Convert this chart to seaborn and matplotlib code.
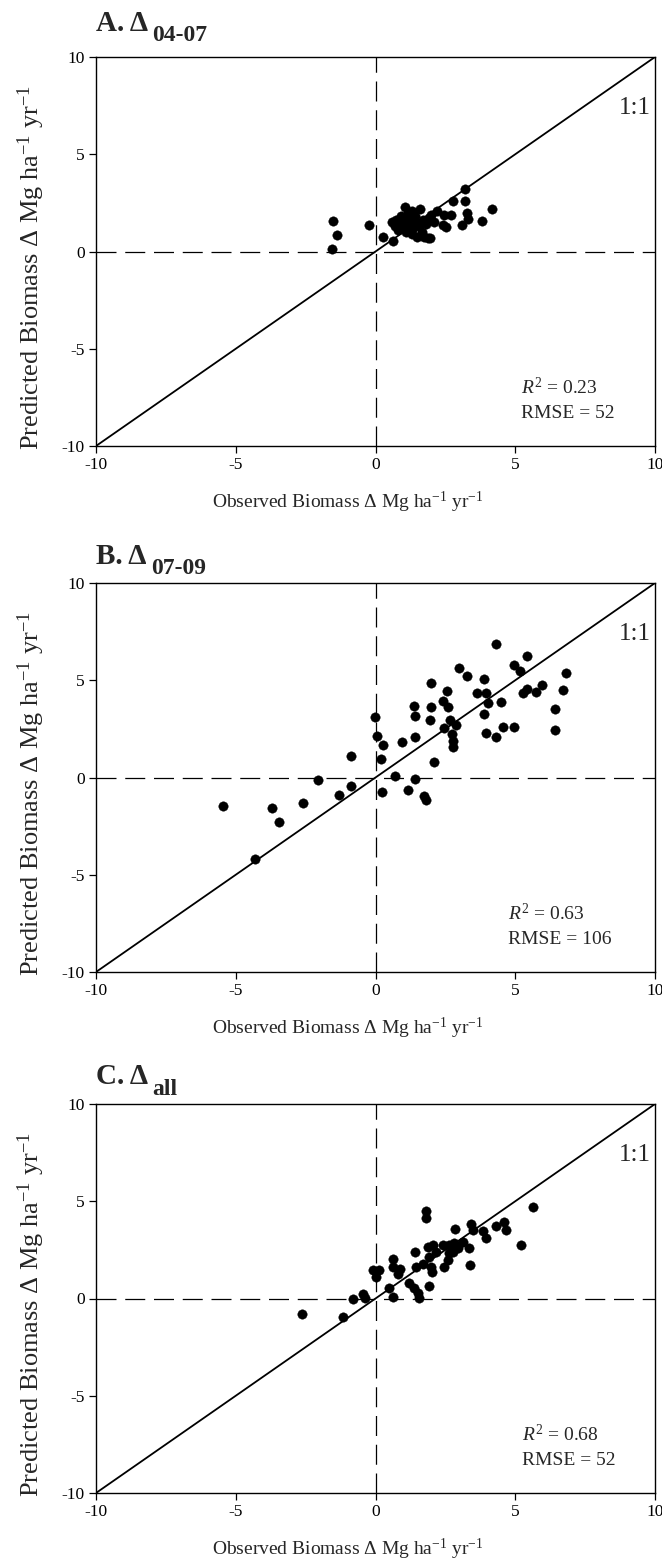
import matplotlib
matplotlib.use("Agg")
import matplotlib.pyplot as plt
import seaborn as sns
import pandas as pd

# A. change 2004-2007 (observed, predicted), Mg ha-1 yr-1
a_obs = [-1.51, -1.37, -1.54, -0.23, 0.27, 0.63,
         0.60, 0.70, 0.75, 0.80, 0.85, 0.90, 0.95, 1.00, 1.05, 1.10, 1.10,
         1.15, 1.20, 1.25, 1.30, 1.30, 1.35, 1.40, 1.45, 1.50, 1.55, 1.60,
         1.65, 1.70, 1.75, 1.80, 1.90, 1.95, 2.00, 2.10, 2.20,
         2.45, 2.42, 2.71, 2.77, 2.51, 3.19, 3.21, 3.27, 3.31, 3.11, 3.82, 4.18, 1.88]
a_pred = [1.55, 0.83, 0.14, 1.34, 0.74, 0.52,
          1.50, 1.30, 1.60, 1.10, 1.40, 1.80, 1.20, 1.55, 2.30, 1.00, 1.70,
          2.00, 1.35, 1.60, 0.90, 2.10, 1.20, 1.80, 1.50, 0.75, 1.30, 2.20,
          1.00, 1.60, 0.75, 1.40, 1.70, 0.70, 1.90, 1.50, 2.10,
          1.90, 1.38, 1.90, 2.59, 1.24, 3.19, 2.59, 1.98, 1.67, 1.34, 1.59, 2.21, 0.69]

# B. change 2007-2009
b_obs = [-5.45, -3.71, -3.47, -4.32, -2.58, -2.05, -1.32, -0.86, -0.88, -0.03,
         0.05, 0.27, 0.20, 0.23, 0.71, 0.95, 1.15, 1.42, 1.42, 1.36,
         1.42, 1.74, 1.82, 1.97, 1.95, 1.97, 2.11, 2.42, 2.56, 2.61,
         2.45, 2.65, 2.73, 2.76, 2.79, 2.88, 2.98, 3.27, 3.64, 3.89,
         3.97, 3.89, 4.03, 3.97, 4.30, 4.30, 4.50, 4.55, 4.94, 5.18,
         4.95, 5.27, 5.41, 5.41, 5.74, 5.97, 6.44, 6.44, 6.70, 6.83]
b_pred = [-1.49, -1.58, -2.28, -4.17, -1.29, -0.14, -0.89, -0.46, 1.11, 3.09,
          2.13, 1.68, 0.93, -0.72, 0.07, 1.84, -0.65, -0.09, 2.09, 3.70,
          3.17, -0.96, -1.17, 3.65, 2.95, 4.85, 0.79, 3.95, 4.43, 3.64,
          2.52, 2.95, 2.23, 1.89, 1.58, 2.71, 5.61, 5.20, 4.32, 5.08,
          4.32, 3.29, 3.83, 2.28, 2.09, 6.86, 3.86, 2.59, 5.80, 5.47,
          2.59, 4.37, 6.23, 4.55, 4.41, 4.75, 3.53, 2.44, 4.49, 5.37]

# C. all years
c_obs = [-2.62, -1.17, -0.79, -0.45, -0.36, -0.10, 0.14, 0.00, 0.50, 0.62,
         0.64, 0.62, 0.86, 0.80, 1.21, 1.39, 1.51, 1.57, 1.43, 1.81,
         1.79, 1.45, 1.69, 1.99, 2.02, 1.93, 1.87, 2.05, 2.17, 1.93,
         2.46, 2.58, 2.64, 2.76, 2.40, 2.64, 2.82, 2.94, 3.12, 2.86,
         3.33, 3.38, 3.42, 3.48, 3.83, 3.95, 4.31, 4.61, 4.67, 5.20, 5.62]
c_pred = [-0.81, -0.93, 0.00, 0.21, 0.04, 1.44, 1.44, 1.09, 0.56, 0.07,
          2.05, 1.61, 1.53, 1.26, 0.82, 0.56, 0.30, 0.04, 2.40, 4.51,
          4.16, 1.61, 1.79, 1.61, 1.35, 0.65, 2.67, 2.75, 2.40, 2.14,
          1.61, 1.96, 2.32, 2.40, 2.75, 2.75, 2.84, 2.58, 2.93, 3.58,
          2.58, 1.70, 3.81, 3.54, 3.46, 3.10, 3.75, 3.93, 3.54, 2.75, 4.68]

letters = ["A.", "B.", "C."]
periods = ["04-07", "07-09", "all"]
r2_vals = ["0.23", "0.63", "0.68"]
rmse_vals = ["52", "106", "52"]
stat_x = [5.2, 4.75, 5.25]

sns.set_style("ticks")
plt.rcParams["font.family"] = ["Liberation Serif", "DejaVu Serif"]
plt.rcParams["mathtext.fontset"] = "custom"
plt.rcParams["mathtext.rm"] = "Liberation Serif"
plt.rcParams["mathtext.it"] = "Liberation Serif:italic"
plt.rcParams["mathtext.bf"] = "Liberation Serif:bold"
plt.rcParams["axes.unicode_minus"] = False

fig = plt.figure(figsize=(6.62, 15.65), dpi=100)
W, H = 662, 1565
left, width = 96, 559
tops = [57, 583, 1104]
ph = 389
title_gap = [0.068, 0.05, 0.051]

obs_all = [a_obs, b_obs, c_obs]
pred_all = [a_pred, b_pred, c_pred]

for i in range(3):
    ax = fig.add_axes([left / W, 1 - (tops[i] + ph) / H, width / W, ph / H])
    df = pd.DataFrame({"observed": obs_all[i], "predicted": pred_all[i]})
    ax.axline((0, 0), slope=1, color="black", lw=1.3, zorder=1)
    ax.axhline(0, color="black", lw=0.9, dashes=(16, 7), zorder=1)
    ax.axvline(0, color="black", lw=0.9, dashes=(16, 7), zorder=1)
    sns.scatterplot(data=df, x="observed", y="predicted", ax=ax, color="black",
                    s=46, edgecolor="black", linewidth=0.3, zorder=3)
    ax.set_xlim(-10, 10)
    ax.set_ylim(-10, 10)
    ax.set_xticks([-10, -5, 0, 5, 10])
    ax.set_yticks([-10, -5, 0, 5, 10])
    ax.tick_params(labelsize=12.5, length=5, width=0.9, colors="black", pad=3)
    for sp in ax.spines.values():
        sp.set_linewidth(1.0)
        sp.set_color("black")
    ax.set_xlabel("Observed Biomass Δ Mg ha$^{-1}$ yr$^{-1}$", fontsize=14)
    ax.xaxis.set_label_coords(0.45, -0.113)
    ax.set_ylabel("Predicted Biomass Δ Mg ha$^{-1}$ yr$^{-1}$", fontsize=19)
    ax.yaxis.set_label_coords(-0.088, 0.46)
    ax.text(9.85, 7.4, "1:1", ha="right", va="center", fontsize=18)
    ax.text(stat_x[i], -7.0, "$R^2$ = " + r2_vals[i], ha="left", va="center", fontsize=14)
    ax.text(stat_x[i], -8.35, "RMSE = " + rmse_vals[i], ha="left", va="center", fontsize=14)
    t = ax.text(0, 1 + title_gap[i], letters[i] + " Δ", transform=ax.transAxes,
                fontsize=21, fontweight="bold", ha="left", va="baseline")
    ax.annotate(periods[i], xy=(1, 0), xycoords=t, xytext=(3, -7),
                textcoords="offset points", fontsize=17, fontweight="bold",
                ha="left", va="bottom")

fig.savefig("out.png", dpi=100)
